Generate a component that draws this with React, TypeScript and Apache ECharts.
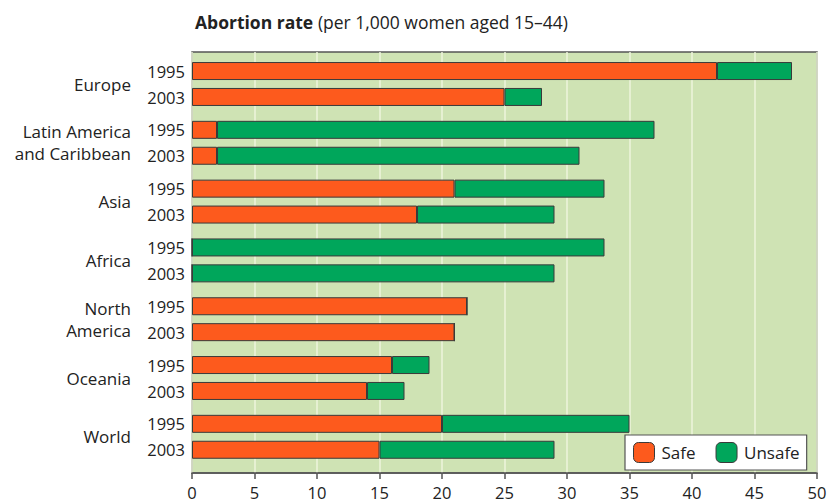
import React, { useEffect, useRef } from "react";
import * as echarts from "echarts";

const regions = ["Europe", "Latin America\nand Caribbean", "Asia", "Africa", "North\nAmerica", "Oceania", "World"];
const safe1995 = [42, 2, 21, 0, 22, 16, 20];
const unsafe1995 = [6, 35, 12, 33, 0, 3, 15];
const safe2003 = [25, 2, 18, 0, 21, 14, 15];
const unsafe2003 = [3, 29, 11, 29, 0, 3, 14];
const yearLabels = ["1995", "2003"];
const xTicks = [0, 5, 10, 15, 20, 25, 30, 35, 40, 45, 50];

const SAFE = "#fd5a1d";
const UNSAFE = "#00a65b";
const FONT = "'Open Sans', 'Noto Sans', sans-serif";

export default function App() {
  const ref = useRef<HTMLDivElement>(null);
  useEffect(() => {
    if (!ref.current) return;
    const chart = echarts.init(ref.current, undefined, { renderer: "svg" });
    const barStyle = (c: string) => ({ color: c, borderColor: "#3a3a3a", borderWidth: 1 });
    chart.setOption({
      animation: false,
      textStyle: { fontFamily: FONT },
      title: {
        left: 190,
        top: 8,
        text: "{b|Abortion rate} {n|(per 1,000 women aged 15–44)}",
        textStyle: {
          fontWeight: "normal",
          rich: {
            b: { fontWeight: "bold", fontSize: 17.5, color: "#222", fontFamily: FONT },
            n: { fontWeight: "normal", fontSize: 17.5, color: "#222", fontFamily: FONT },
          },
        },
      },
      legend: {
        left: 625,
        top: 435,
        orient: "horizontal",
        backgroundColor: "#ffffff",
        borderColor: "#555",
        borderWidth: 1.2,
        padding: [7, 7, 7, 8],
        itemWidth: 21,
        itemHeight: 20,
        itemGap: 20,
        borderRadius: 0,
        textStyle: { fontSize: 17, color: "#222", fontFamily: FONT, padding: [0, 0, 0, 2] },
        data: [
          { name: "Safe", itemStyle: { color: SAFE, borderColor: "#3a3a3a", borderWidth: 1 } },
          { name: "Unsafe", itemStyle: { color: UNSAFE, borderColor: "#3a3a3a", borderWidth: 1 } },
        ],
      },
      grid: [
        {
          left: 192, right: 14, top: 52, bottom: 31,
          show: true, backgroundColor: "#cfe3b4", borderColor: "#555", borderWidth: 1.5,
        },
        { left: 192, right: 14, top: 54.6, height: 411.6 },
      ],
      xAxis: [
        {
          gridIndex: 0, type: "value", min: 0, max: 50, interval: 5,
          axisLine: { show: true, lineStyle: { color: "#555", width: 1.5 } },
          axisTick: { show: true, length: 6, lineStyle: { color: "#555", width: 1.5 } },
          splitLine: { show: true, lineStyle: { color: "#eef5dc", width: 1.5 } },
          axisLabel: {
            fontSize: 16.5, lineHeight: 18, color: "#222", margin: 10, fontFamily: FONT,
            formatter: (v: number) => (xTicks.includes(v) ? String(v) : ""),
          },
        },
        { gridIndex: 1, type: "value", min: 0, max: 50, show: false },
      ],
      yAxis: [
        { gridIndex: 0, type: "value", show: false },
        {
          gridIndex: 1, type: "category", inverse: true, data: regions,
          axisLine: { show: false }, axisTick: { show: false },
          axisLabel: { fontSize: 17, color: "#222", margin: 61, lineHeight: 22, align: "right", fontFamily: FONT },
        },
        {
          gridIndex: 1, type: "category", inverse: true, position: "left", data: regions,
          axisLine: { show: false }, axisTick: { show: false },
          axisLabel: {
            margin: 7, align: "right",
            formatter: () => `{y|${yearLabels[0]}}\n{y|${yearLabels[1]}}`,
            rich: { y: { fontSize: 16.5, color: "#222", lineHeight: 26, fontFamily: FONT } },
          },
        },
      ],
      series: [
        { name: "Safe", type: "bar", xAxisIndex: 1, yAxisIndex: 1, stack: "a", barWidth: 18, barGap: "44%", data: safe1995, itemStyle: barStyle(SAFE) },
        { name: "Unsafe", type: "bar", xAxisIndex: 1, yAxisIndex: 1, stack: "a", barWidth: 18, barGap: "44%", data: unsafe1995, itemStyle: barStyle(UNSAFE) },
        { name: "Safe", type: "bar", xAxisIndex: 1, yAxisIndex: 1, stack: "b", barWidth: 18, barGap: "44%", data: safe2003, itemStyle: barStyle(SAFE) },
        { name: "Unsafe", type: "bar", xAxisIndex: 1, yAxisIndex: 1, stack: "b", barWidth: 18, barGap: "44%", data: unsafe2003, itemStyle: barStyle(UNSAFE) },
      ],
    });
    return () => chart.dispose();
  }, []);
  return <div ref={ref} style={{ width: 831, height: 504, position: "absolute", left: 0, top: 0 }} />;
}
